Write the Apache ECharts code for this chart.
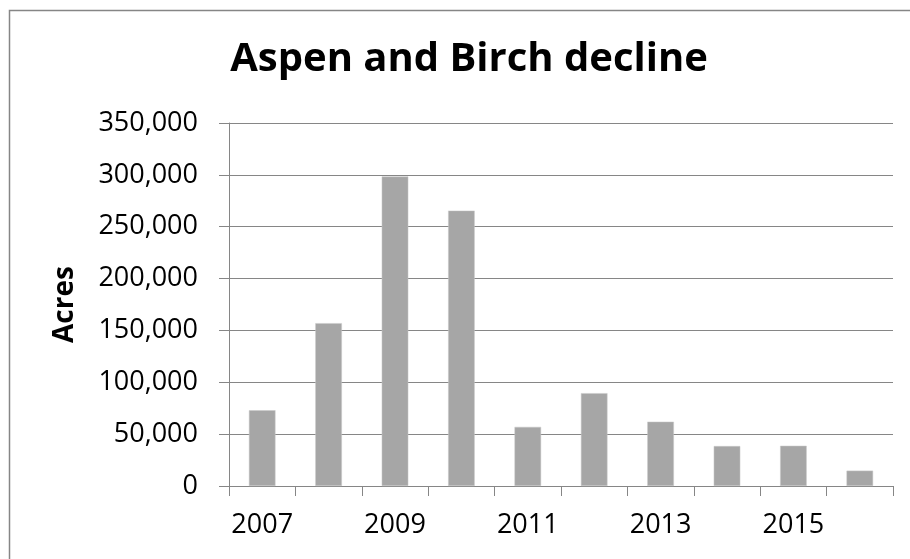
<!DOCTYPE html>
<html>
<head>
<meta charset="utf-8">
<script src="https://cdn.jsdelivr.net/npm/echarts@6/dist/echarts.min.js"></script>
<style>html,body{margin:0;padding:0;background:#fff;}#chart{width:910px;height:559px;}</style>
</head>
<body>
<div id="chart"></div>
<script>
const categories = ['2007','2008','2009','2010','2011','2012','2013','2014','2015','2016'];
const acres = [73000, 157000, 298500, 265500, 57000, 89500, 62000, 38500, 38800, 14800];
const yTicks = [0, 50000, 100000, 150000, 200000, 250000, 300000, 350000];
const titleText = 'Aspen and Birch decline';
const yName = 'Acres';

const chart = echarts.init(document.getElementById('chart'), null, {renderer: 'canvas'});
const grey = '#868686';
const font = 'Open Sans';
chart.setOption({
  animation: false,
  backgroundColor: '#fff',
  graphic: [{
    type: 'rect', left: 7, top: 8,
    shape: {width: 1000, height: 1000},
    style: {fill: 'none', stroke: grey, lineWidth: 1.5}
  }],
  title: {
    text: titleText,
    left: 464, top: 35, textAlign: 'center',
    textStyle: {fontFamily: font, fontWeight: 'bold', fontSize: 40, color: '#000'}
  },
  grid: {left: 229, top: 123, right: 17, bottom: 73, containLabel: false},
  xAxis: {
    type: 'category', data: categories, boundaryGap: true,
    axisLine: {lineStyle: {color: grey, width: 1}},
    axisTick: {show: true, length: 10, interval: 0, lineStyle: {color: grey}},
    axisLabel: {interval: 1, margin: 26, fontFamily: font, fontSize: 27, color: '#000'},
    splitLine: {show: false}
  },
  yAxis: {
    type: 'value', min: yTicks[0], max: yTicks[yTicks.length - 1], interval: 50000,
    name: yName, nameLocation: 'middle', nameRotate: 90, nameGap: 150,
    nameTextStyle: {fontFamily: font, fontWeight: 'bold', fontSize: 28, color: '#000'},
    axisLine: {show: true, lineStyle: {color: grey, width: 1}},
    axisTick: {show: true, length: 10, lineStyle: {color: grey}},
    axisLabel: {margin: 31, fontFamily: font, fontSize: 27, color: '#000',
      formatter: v => v.toLocaleString('en-US')},
    splitLine: {show: true, lineStyle: {color: grey, width: 1}}
  },
  series: [{
    type: 'bar', data: acres, barWidth: '40%',
    itemStyle: {color: '#a6a6a6', borderColor: '#c8c8c8', borderWidth: 0.5}
  }]
});
</script>
</body>
</html>
